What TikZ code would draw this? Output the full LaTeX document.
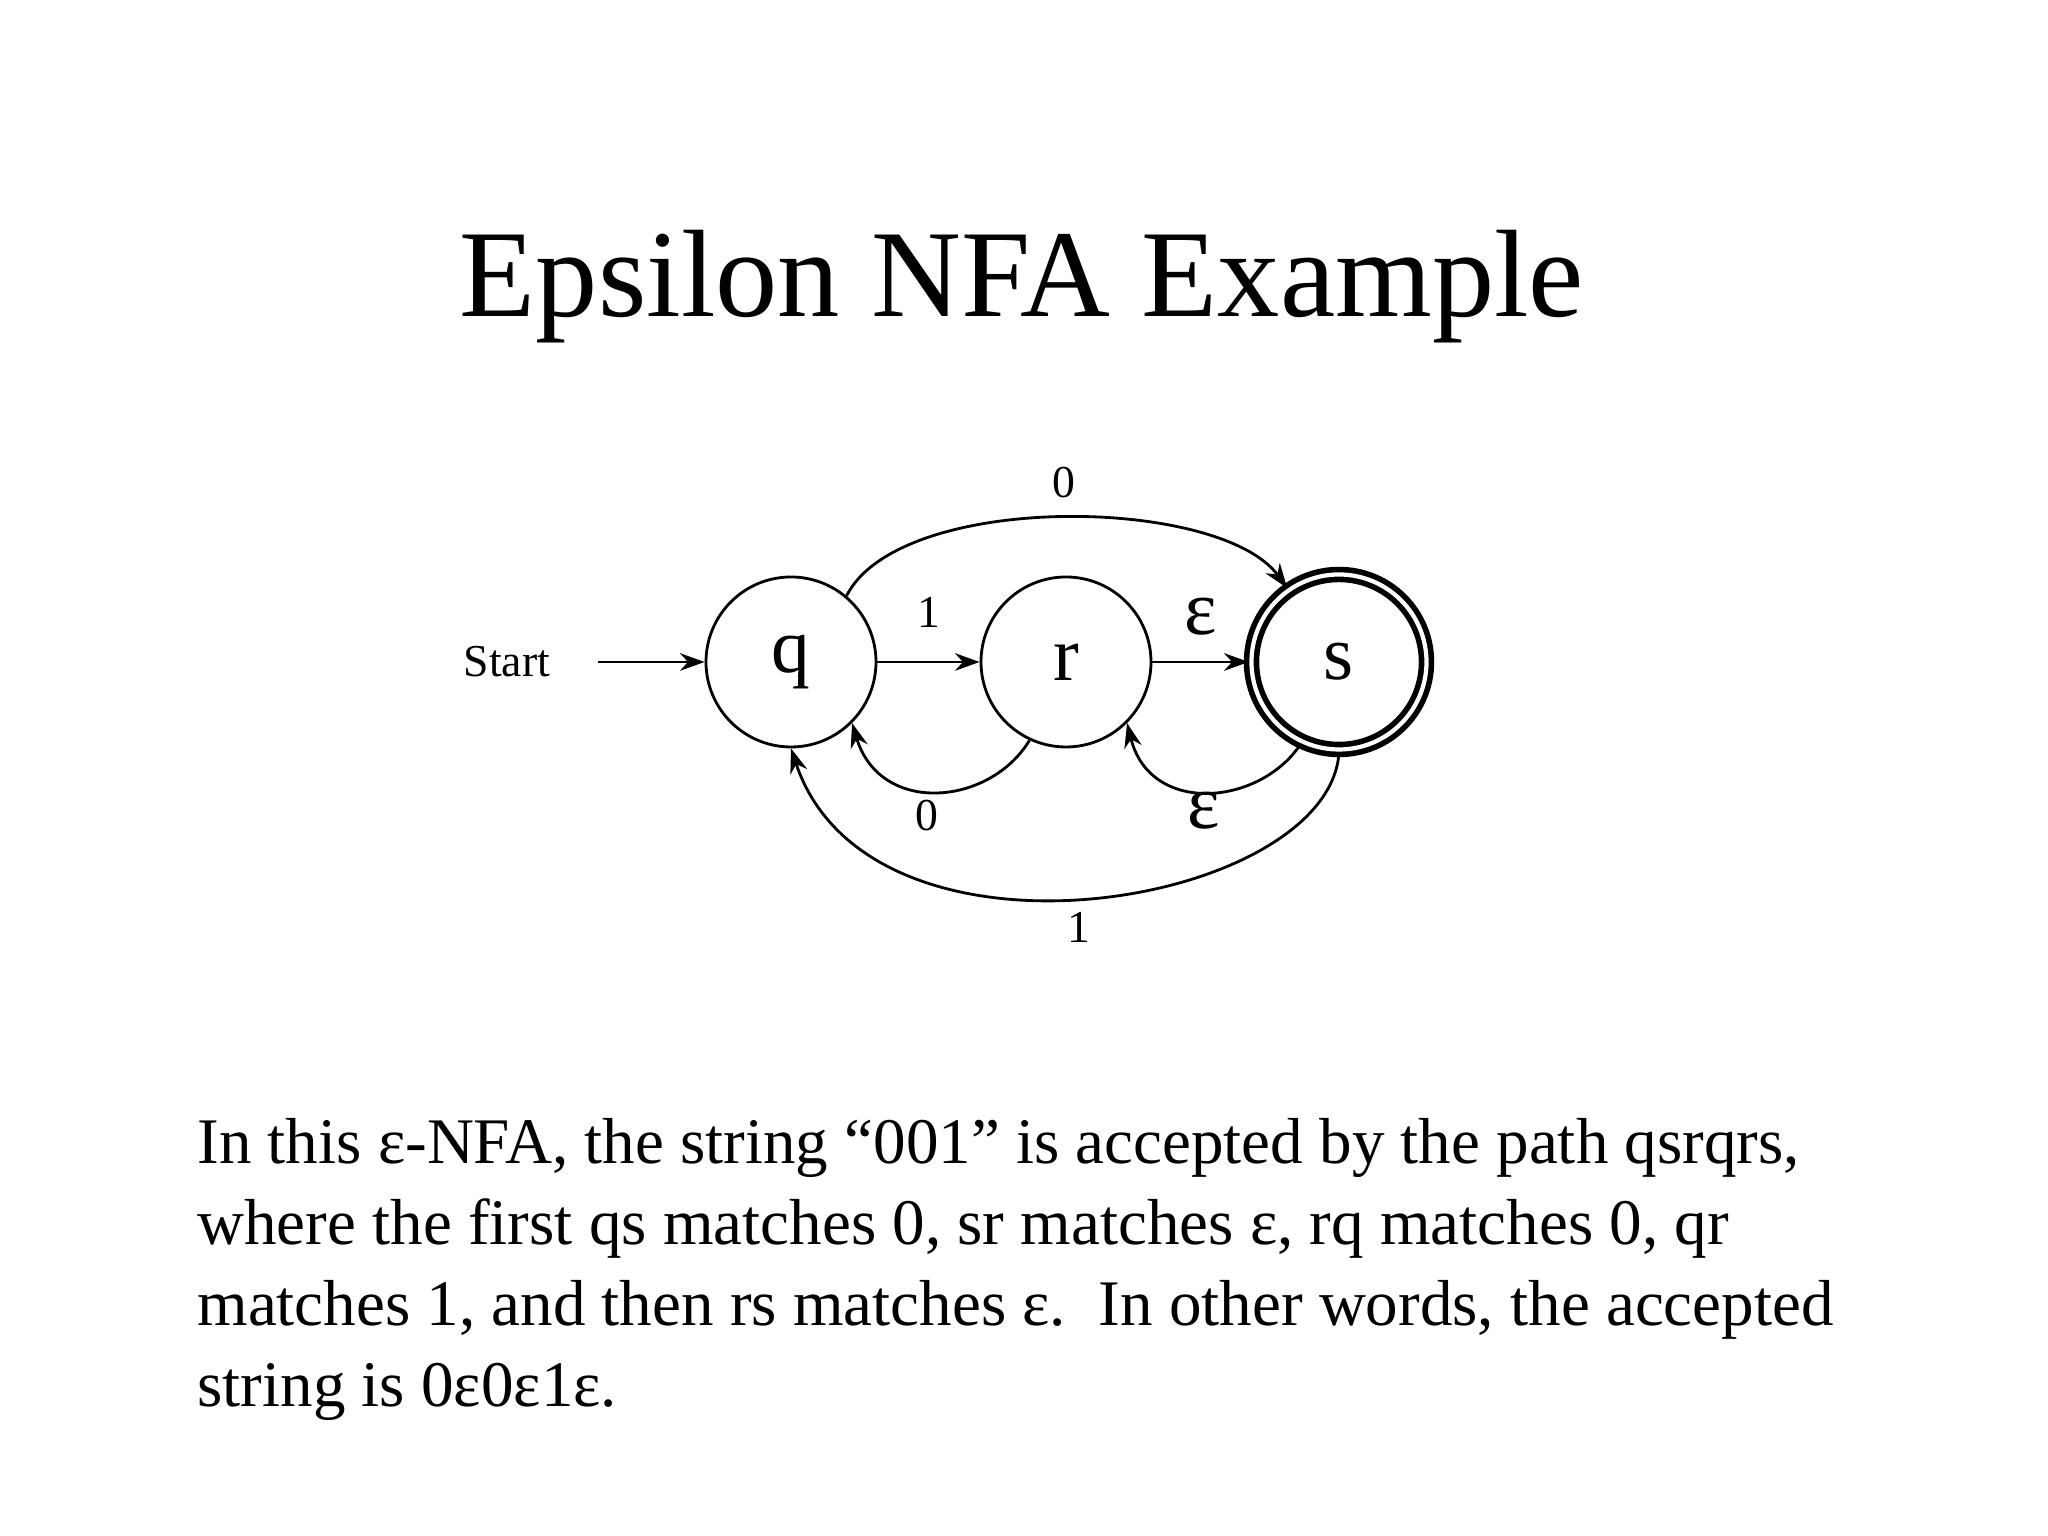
\documentclass[tikz,border=0pt]{standalone}
\usepackage{fontspec}
\setmainfont{Liberation Serif}
\usetikzlibrary{arrows.meta}
\begin{document}
\begin{tikzpicture}[
  state/.style={circle,draw,line width=0.8pt,minimum size=1.7cm,inner sep=0pt,font=\fontsize{22}{24}\selectfont},
  acc/.style={state,double,line width=1.6pt,double distance=1.2pt},
  tr/.style={-{Stealth[length=7pt,width=5pt]},line width=0.8pt},
  sm/.style={font=\fontsize{13}{15}\selectfont},
  eps/.style={font=\fontsize{22}{24}\selectfont}]
\useasboundingbox (0,0) rectangle (20.48,15.36);
\node[anchor=base,font=\fontsize{35.4}{40}\selectfont] (title) at (10.22,12.19) {Epsilon NFA Example};
\node[state] (q) at (7.91,8.74) {q};
\node[state] (r) at (10.66,8.74) {r};
\node[acc,minimum size=1.75cm] (s) at (13.39,8.74) {s};
\node[sm] (start) at (5.07,8.74) {Start};
\draw[tr] (start.east)++(0.35,0) coordinate (st) (st) -- (q.west);
\draw[tr] (q) -- node[sm,above=6pt] {1} (r);
\draw[tr] (r) -- node[eps,above=4pt] {ε} (s);
\draw[tr] (q.50) .. controls (9.0,10.45) and (12.2,10.4) .. (s.125);
\node[sm] at (10.64,10.53) {0};
\draw[tr] (r.245) .. controls (9.9,7.3) and (8.8,7.2) .. (q.-45);
\node[sm] at (9.27,7.2) {0};
\draw[tr] (s.245) .. controls (12.6,7.3) and (11.5,7.2) .. (r.-45);
\node[eps] at (12.04,7.25) {ε};
\draw[tr] (s.270) .. controls (13.3,6.3) and (8.7,5.5) .. (q.270);
\node[sm] at (10.79,6.09) {1};
\node[anchor=north west,align=left,font=\fontsize{18.5}{23}\selectfont] (body) at (1.85,4.3)
{In this ε-NFA, the string “001” is accepted by the path qsrqrs,\\
where the first qs matches 0, sr matches ε, rq matches 0, qr\\
matches 1, and then rs matches ε.\ \ In other words, the accepted\\
string is 0ε0ε1ε.};
\end{tikzpicture}
\end{document}
